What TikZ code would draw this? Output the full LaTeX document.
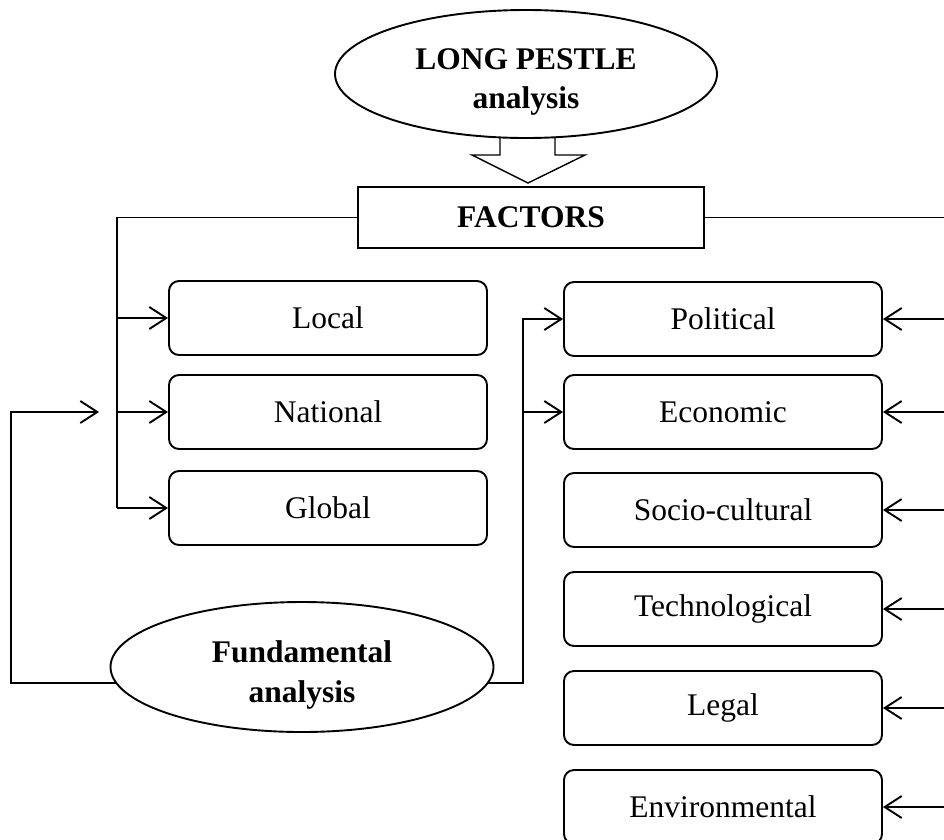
\documentclass[tikz,border=0pt]{standalone}
\usepackage{fontspec}
\setmainfont{Liberation Serif}
\usetikzlibrary{arrows.meta,shapes.geometric,calc}
\begin{document}
\begin{tikzpicture}[x=1pt,y=-1pt,
  lw/.style={line width=1.9pt},
  thin line/.style={line width=1.4pt},
  txt/.style={font=\fontsize{31.5}{38}\selectfont},
  btxt/.style={align=center,font=\bfseries\fontsize{31.5}{39.5}\selectfont},
  box/.style={draw,lw,rounded corners=10pt,minimum width=318pt,minimum height=74pt,inner sep=0pt,txt},
  oval/.style={draw,lw,ellipse,fill=white,inner sep=0pt},
  conn/.style={lw},
  arr/.style={lw,-{Straight Barb[length=17pt,width=22pt,line width=1.9pt]}}
]
\useasboundingbox (0,0) rectangle (944,839);

% top ellipse and block arrow
\node[oval,minimum width=382pt,minimum height=128pt] (lp) at (526,74) {};
\node[btxt] (lpt) at ($(lp.center)+(0,8)$) {LONG PESTLE\\analysis};
\draw[thin line,line join=miter] (500,137) -- (500,155) -- (472,155) -- (528,183) -- (585,155) -- (555,155) -- (555,137);

\node[draw,thin line,minimum width=346pt,minimum height=61pt,inner sep=0pt,font=\bfseries\fontsize{31.5}{38}\selectfont] (fac) at (531,217.5) {FACTORS};

% left boxes
\node[box] (loc) at (328,318) {Local};
\node[box] (nat) at (328,412) {National};
\node[box] (glo) at (328,508) {Global};

% right boxes
\node[box] (pol) at (723,319) {Political};
\node[box] (eco) at (723,412) {Economic};
\node[box] (soc) at (723,510) {Socio-cultural};
\node[box] (tec) at (723,609) {Technological};
\node[box] (leg) at (723,708) {Legal};
\node[box] (env) at (723,807) {Environmental};

% fundamental analysis
\node[oval,minimum width=383pt,minimum height=130pt] (fa) at (302,667) {};
\node[btxt] (fat) at ($(fa.center)+(0,8)$) {Fundamental\\analysis};

% helper coordinates
\coordinate (bl) at (117,218);
\coordinate (ll) at (11,683);
\coordinate (rl) at (523,683);
\coordinate (re) at (944,218);
\coordinate (la) at ($(nat.west)+(-69,0)$);

% left bus
\draw[conn] (fac.west) -| (bl |- glo.west);
\draw[arr] (bl |- loc.west) -- (loc.west);
\draw[arr] (bl |- nat.west) -- (nat.west);
\draw[arr] (bl |- glo.west) -- (glo.west);

% fundamental feedback
\draw[arr] (fa.185) -| (ll |- nat.west) -- (la);
\draw[arr] (fa.355) -| (rl |- pol.west) -- (pol.west);
\draw[arr] (rl |- eco.west) -- (eco.west);

% right edge
\draw[conn] (fac.east) -- (re |- fac.east);
\draw[arr] (re |- pol.east) -- (pol.east);
\draw[arr] (re |- eco.east) -- (eco.east);
\draw[arr] (re |- soc.east) -- (soc.east);
\draw[arr] (re |- tec.east) -- (tec.east);
\draw[arr] (re |- leg.east) -- (leg.east);
\draw[arr] (re |- env.east) -- (env.east);
\end{tikzpicture}
\end{document}
